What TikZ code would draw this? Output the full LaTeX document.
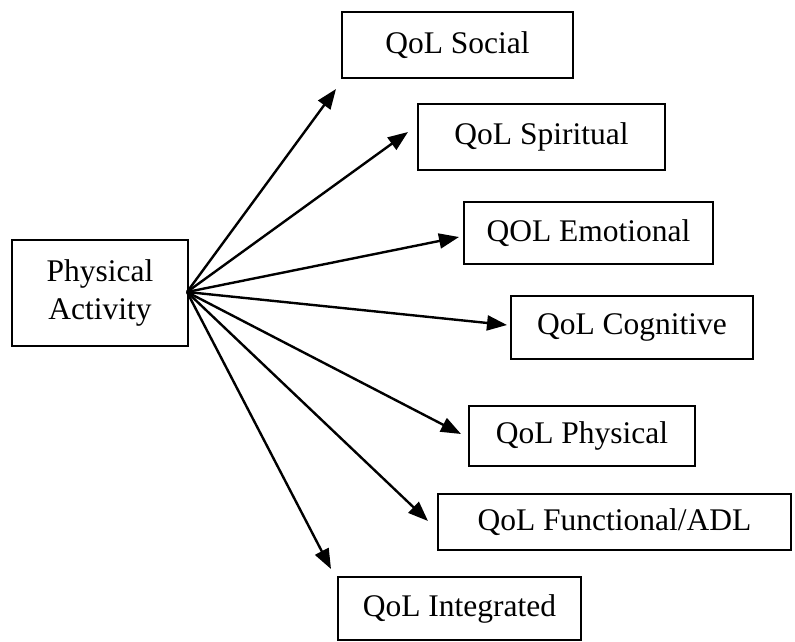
\documentclass[tikz,border=0pt]{standalone}
\usepackage{fontspec}
\setmainfont{Liberation Serif}
\usetikzlibrary{arrows.meta}
\tikzset{
  qbox/.style={draw, line width=2.4pt, inner sep=0pt, align=center,
    font=\fontsize{31.5}{38}\selectfont},
  link/.style={line width=2.4pt, -{Triangle[length=20pt,width=15pt]}}
}
\begin{document}
\begin{tikzpicture}[x=1pt,y=-1pt]
\useasboundingbox (0,0) rectangle (795,642);
% source box
\node[qbox, minimum width=176pt, minimum height=106pt] (pa) at (100,293) {Physical\\Activity};
% outcome boxes
\node[qbox, minimum width=231pt, minimum height=66pt] (social) at (457.5,45) {QoL Social};
\node[qbox, minimum width=247pt, minimum height=66pt] (spirit) at (541.5,137) {QoL Spiritual};
\node[qbox, minimum width=249pt, minimum height=62pt] (emot) at (588.5,233) {QOL Emotional};
\node[qbox, minimum width=242pt, minimum height=63pt] (cogn) at (632,327.5) {QoL Cognitive};
\node[qbox, minimum width=226pt, minimum height=60pt] (phys) at (582,436) {QoL Physical};
\node[qbox, minimum width=353pt, minimum height=56pt] (func) at (614.5,522) {QoL Functional/ADL};
\node[qbox, minimum width=243pt, minimum height=63pt] (integ) at (459.5,608.5) {QoL Integrated};
% arrow tips, each just short of its box
\coordinate (o) at (187,292);
\coordinate (tsocial) at (336,89);
\coordinate (tspirit) at (408,132);
\coordinate (temot) at (459,237);
\coordinate (tcogn) at (507,325);
\coordinate (tphys) at (461,434);
\coordinate (tfunc) at (428,521);
\coordinate (tinteg) at (331,569);
\foreach \t in {tsocial,tspirit,temot,tcogn,tphys,tfunc,tinteg}
  \draw[link] (o) -- (\t);
\end{tikzpicture}
\end{document}
